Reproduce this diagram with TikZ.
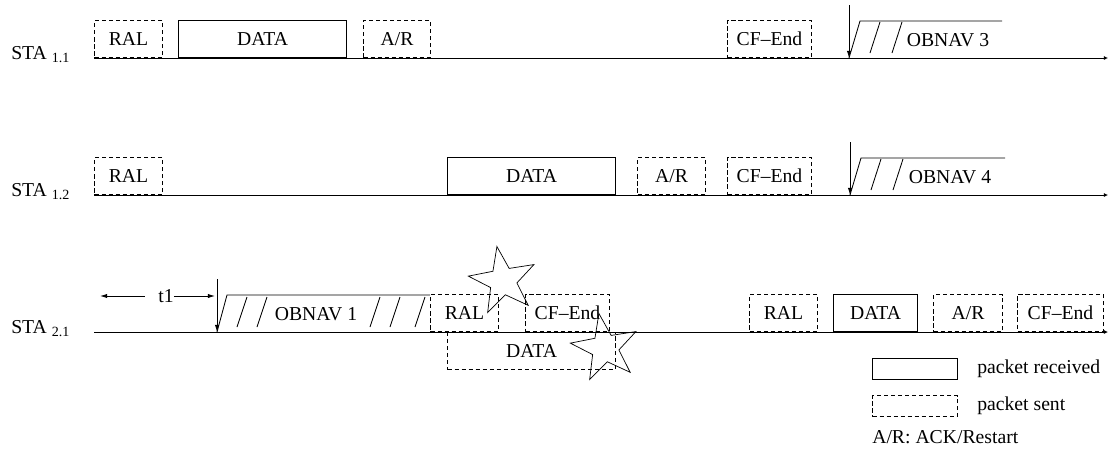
\documentclass[tikz,border=0pt]{standalone}
\usepackage{fontspec}
\setmainfont{Liberation Serif}
\usepackage{tikz}
\usetikzlibrary{shapes.geometric, arrows.meta}

\begin{document}
\begin{tikzpicture}[
    x = 0.025cm, y = -0.025cm,
    font = \fontsize{14}{16}\selectfont,
    pkt/.style      = {rectangle, minimum height=0.925cm, inner sep=0pt,
                       anchor=south west, line width=0.7pt},
    sentbox/.style  = {pkt, draw, dash pattern=on 3pt off 2pt},
    recvbox/.style  = {pkt, draw},
    timeline/.style = {line width=0.7pt, -{Latex[length=3pt,width=3pt]}},
    navarrow/.style = {-{Latex[length=5pt,width=3pt]}, line width=0.6pt},
    hatch/.style    = {line width=0.6pt},
    crash/.style    = {star, star points=5, star point ratio=2.5, draw,
                       minimum size=1.75cm, inner sep=0pt, line width=0.5pt,
                       rotate=10},
    sta/.style      = {anchor=base west, inner sep=0pt},
]
\useasboundingbox (0,0) rectangle (1111,449);

% station 1.1
\node[sta] (sta11) at (11,59) {STA \raisebox{-0.4ex}{\fontsize{10}{10}\selectfont 1.1}};
\node[sentbox, minimum width=1.7cm]   (ral11)  at (94,58)  {RAL};
\node[recvbox, minimum width=4.2cm]   (data11) at (178,58) {DATA};
\node[sentbox, minimum width=1.675cm] (ar11)   at (363,58) {A/R};
\node[sentbox, minimum width=2.1cm]   (cfe11)  at (727,58) {CF--End};
\node (nav3) at (948,40) {OBNAV 3};
\coordinate (in3)  at (849,5);
\coordinate (hit3) at (849,58);
\draw[navarrow] (in3) -- (hit3);
\draw[hatch] (hit3) -- (860,21) -- (1002,21);
\foreach \x in {870,892}
    \draw[hatch] (\x,53) -- ++(10,-31);
\draw[timeline] (ral11.south west) -- ++(1014,0);

% station 1.2
\node[sta] (sta12) at (11,196) {STA \raisebox{-0.4ex}{\fontsize{10}{10}\selectfont 1.2}};
\node[sentbox, minimum width=1.7cm]   (ral12)  at (94,195)  {RAL};
\node[recvbox, minimum width=4.2cm]   (data12) at (447,195) {DATA};
\node[sentbox, minimum width=1.7cm]   (ar12)   at (637,195) {A/R};
\node[sentbox, minimum width=2.1cm]   (cfe12)  at (727,195) {CF--End};
\node (nav4) at (950,177) {OBNAV 4};
\coordinate (in4)  at (850,142);
\coordinate (hit4) at (850,195);
\draw[navarrow] (in4) -- (hit4);
\draw[hatch] (hit4) -- (861,158) -- (1005,158);
\foreach \x in {871,893}
    \draw[hatch] (\x,190) -- ++(10,-31);
\draw[timeline] (ral12.south west) -- ++(1014,0);

% station 2.1
\node[sta] (sta21) at (11,333) {STA \raisebox{-0.4ex}{\fontsize{10}{10}\selectfont 2.1}};
\node[inner sep=0pt] (t1) at (166,296) {t1};
\coordinate (t1l) at (100,296);
\coordinate (t1r) at (215,296);
\draw[navarrow] ([xshift=-0.33cm]t1.west) -- (t1l);
\draw[navarrow] (t1.east) -- (t1r);
\node (nav1) at (316,314) {OBNAV 1};
\coordinate (in1)  at (217,279);
\coordinate (hit1) at (217,332);
\draw[navarrow] (in1) -- (hit1);
\draw[hatch] (hit1) -- (227,295) -- (430,295);
\foreach \x in {237,257,370,390,415}
    \draw[hatch] (\x,327) -- ++(10,-30);
\node[sentbox, minimum width=1.7cm]   (ral21a) at (430,332) {RAL};
\node[sentbox, minimum width=2.1cm]   (cfe21a) at (525,332) {CF--End};
\node[sentbox, minimum width=4.2cm, anchor=north west] (data21a) at (447,332) {DATA};
\node[sentbox, minimum width=1.7cm]   (ral21b) at (749,332) {RAL};
\node[recvbox, minimum width=2.1cm]   (data21b) at (833,332) {DATA};
\node[sentbox, minimum width=1.725cm] (ar21)   at (933,332) {A/R};
\node[sentbox, minimum width=2.15cm]  (cfe21b) at (1017,332) {CF--End};
\draw[timeline] (94,332) -- (1108,332);

% collisions
\node[crash] (col1) at (503,281) {};
\node[crash] (col2) at (605,348) {};

% legend
\node[recvbox, minimum width=2.125cm, minimum height=0.525cm] (keyrecv) at (872,380) {};
\node[sentbox, minimum width=2.125cm, minimum height=0.525cm] (keysent) at (872,417) {};
\node[anchor=west, inner sep=0pt] (txtrecv) at (977,369) {packet received};
\node[anchor=west, inner sep=0pt] (txtsent) at (977,406) {packet sent};
\node[anchor=west, inner sep=0pt] (txtar)   at (872,437) {A/R: ACK/Restart};
\end{tikzpicture}
\end{document}
